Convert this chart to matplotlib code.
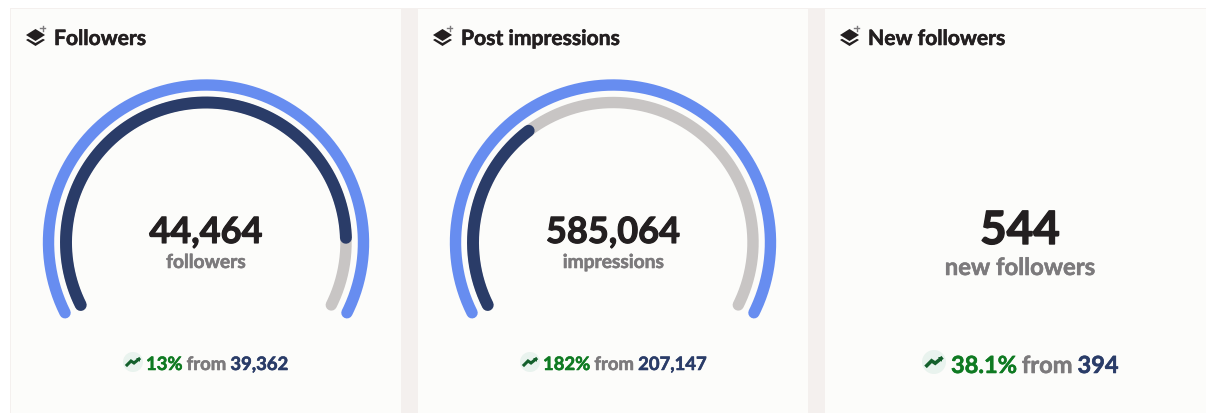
import numpy as np
import matplotlib
matplotlib.use("Agg")
import matplotlib.pyplot as plt
import matplotlib.patheffects as pe
from matplotlib.patches import Rectangle, Polygon, Circle

# card contents
titles = ["Followers", "Post impressions", "New followers"]
big_values = ["44,464", "585,064", "544"]
units = ["followers", "impressions", "new followers"]
changes = ["13%", "182%", "38.1%"]
previous = ["39,362", "207,147", "394"]
gauge_fill = [0.878, 0.341]  # share of the arc that is dark

W, H = 1206, 414
PAGE = "#f4f0ee"
CARD = "#fcfcfa"
BLUE = "#678df0"
NAVY = "#2a3c68"
TRACK = "#c8c5c4"
INK = "#231f20"
GREY = "#7c7a7c"
GREEN = "#0f7a22"
START, END = 206.5, -26.5

plt.rcParams["font.family"] = ["Lato", "DejaVu Sans"]

fig = plt.figure(figsize=(W / 100, H / 100), dpi=100, facecolor="white")
ax = fig.add_axes([0, 0, 1, 1])
ax.set_xlim(0, W)
ax.set_ylim(H, 0)
ax.axis("off")

ax.add_patch(Rectangle((10, 9), W - 10, H - 9, fc=PAGE, ec="none"))
card_left = [11, 418, 825]
card_right = [401, 808, 1206]
for l, r in zip(card_left, card_right):
    ax.add_patch(Rectangle((l, 10), r - l, H - 10, fc=CARD, ec="none"))


def label(x, y, s, color, size, ha="left", stroke=0.4):
    # bold text thickened a little, Lato bold is lighter than the original face
    return ax.text(x, y, s, color=color, fontsize=size, fontweight="bold", ha=ha, va="baseline",
                   path_effects=[pe.withStroke(linewidth=stroke, foreground=color)])


def layers_icon(x):
    # stacked layers glyph with a small plus
    ax.add_patch(Polygon([(x, 36), (x + 9.5, 30), (x + 19, 36), (x + 9.5, 42)], fc=INK, ec="none"))
    ax.add_patch(Polygon([(x, 41), (x + 2, 39.8), (x + 9.5, 44), (x + 17, 39.8), (x + 19, 41), (x + 9.5, 47)], fc=INK, ec="none"))
    ax.plot([x + 16.5, x + 16.5], [26.5, 31.5], color=GREY, lw=1.0)
    ax.plot([x + 14, x + 19], [29, 29], color=GREY, lw=1.0)


def trend_icon(cx, cy, rad):
    ax.add_patch(Circle((cx, cy), rad, fc="#e9f3ee", ec="none"))
    s = rad / 10
    ax.plot([cx - 6 * s, cx - 2 * s, cx + 1 * s, cx + 6 * s], [cy + 3 * s, cy - 1 * s, cy + 1 * s, cy - 3 * s],
            color="#14602c", lw=1.9 * s + 0.3, solid_joinstyle="miter")
    ax.add_patch(Polygon([(cx + 3 * s, cy - 4 * s), (cx + 7 * s, cy - 4 * s), (cx + 7 * s, cy)], fc="#14602c", ec="none"))


def gauge(cx, cy, frac, dark):
    R = 175
    g = fig.add_axes([(cx - R) / W, 1 - (cy + R) / H, 2 * R / W, 2 * R / H], projection="polar")
    g.patch.set_alpha(0)
    g.axis("off")
    g.set_ylim(0, R)
    t = np.radians(np.linspace(START, END, 300))
    g.plot(t, np.full(300, 157.5), color=BLUE, lw=8.2, solid_capstyle="round")
    g.plot(t, np.full(300, 140.0), color=TRACK, lw=8.2, solid_capstyle="round")
    t2 = np.radians(np.linspace(START, START + (END - START) * frac, 200))
    g.plot(t2, np.full(200, 140.0), color=dark, lw=8.6, solid_capstyle="round")


def rich(x, y, parts, size, gap):
    # draws coloured runs left to right
    r = fig.canvas.get_renderer()
    for s, c in parts:
        tx = label(x, y, s, c, size)
        x += tx.get_window_extent(r).width + gap


title_x = [54, 461, 868]
icon_x = [26, 433, 840]
for i in range(3):
    layers_icon(icon_x[i])
    label(title_x[i], 46, titles[i], INK, 15.2)

cxs = [206, 613]
for i in range(2):
    gauge(cxs[i], 243.5, gauge_fill[i], NAVY)
    label(cxs[i], 244, big_values[i], INK, 26, ha="center", stroke=0.8)
    label(cxs[i], 269, units[i], GREY, 13.8, ha="center")

label(1020, 245, big_values[2], INK, 33, ha="center", stroke=1.0)
label(1020, 276, units[2], GREY, 17.2, ha="center")

trend_icon(133, 363, 10)
rich(146, 371, [(changes[0], GREEN), ("from", GREY), (previous[0], NAVY)], 13.3, 4)
trend_icon(530, 363, 10)
rich(543, 371, [(changes[1], GREEN), ("from", GREY), (previous[1], NAVY)], 13.3, 4)
trend_icon(934, 363, 12)
rich(951, 374, [(changes[2], GREEN), ("from", GREY), (previous[2], NAVY)], 17, 5)

fig.savefig("out.png", dpi=100)
